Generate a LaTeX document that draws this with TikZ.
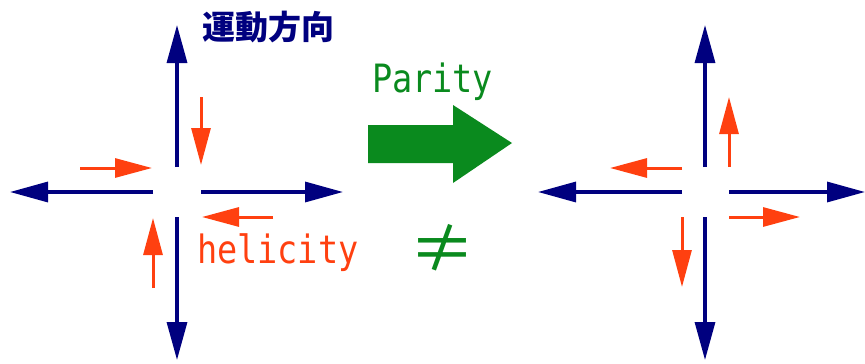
\documentclass[tikz,border=0pt]{standalone}
\usepackage{fontspec}
\newfontfamily\cjkfont{Noto Sans CJK JP}
\newfontfamily\labelfont[FakeStretch=0.86]{DejaVu Sans Mono}
\usetikzlibrary{arrows.meta}
\definecolor{navy}{HTML}{00007F}
\definecolor{spinred}{HTML}{FF4010}
\definecolor{paritygreen}{HTML}{0A8A1E}
\tikzset{
  motion/.style={draw=navy, line width=3.3pt, -{Triangle[length=38pt,width=20pt]}},
  spin/.style={draw=spinred, line width=3pt, -{Triangle[length=37pt,width=19pt]}},
  lbl/.style={inner sep=0pt, outer sep=0pt}
}
\begin{document}
\begin{tikzpicture}[x=1pt,y=-1pt]
\useasboundingbox (0,0) rectangle (865,364);

% ---- left cross: momentum directions ----
\coordinate (lU0) at (177,167); \coordinate (lU1) at (177,25);
\coordinate (lD0) at (177,217); \coordinate (lD1) at (177,360);
\coordinate (lL0) at (153,192); \coordinate (lL1) at (10,192);
\coordinate (lR0) at (201,192); \coordinate (lR1) at (343,192);
\draw[motion] (lU0) -- (lU1);
\draw[motion] (lD0) -- (lD1);
\draw[motion] (lL0) -- (lL1);
\draw[motion] (lR0) -- (lR1);

% ---- left cross: spins ----
\coordinate (ls1a) at (201,97);  \coordinate (ls1b) at (201,165);
\coordinate (ls2a) at (80,168);  \coordinate (ls2b) at (152,168);
\coordinate (ls3a) at (273,217); \coordinate (ls3b) at (202,217);
\coordinate (ls4a) at (153,288); \coordinate (ls4b) at (153,218);
\draw[spin] (ls1a) -- (ls1b);
\draw[spin] (ls2a) -- (ls2b);
\draw[spin] (ls3a) -- (ls3b);
\draw[spin] (ls4a) -- (ls4b);

% ---- right cross: momentum directions ----
\coordinate (rU0) at (705,167); \coordinate (rU1) at (705,25);
\coordinate (rD0) at (705,217); \coordinate (rD1) at (705,360);
\coordinate (rL0) at (682,192); \coordinate (rL1) at (538,192);
\coordinate (rR0) at (729,192); \coordinate (rR1) at (865,192);
\draw[motion] (rU0) -- (rU1);
\draw[motion] (rD0) -- (rD1);
\draw[motion] (rL0) -- (rL1);
\draw[motion] (rR0) -- (rR1);

% ---- right cross: spins ----
\coordinate (rs1a) at (729,167); \coordinate (rs1b) at (729,97);
\coordinate (rs2a) at (682,168); \coordinate (rs2b) at (610,168);
\coordinate (rs3a) at (729,217); \coordinate (rs3b) at (800,217);
\coordinate (rs4a) at (682,217); \coordinate (rs4b) at (682,287);
\draw[spin] (rs1a) -- (rs1b);
\draw[spin] (rs2a) -- (rs2b);
\draw[spin] (rs3a) -- (rs3b);
\draw[spin] (rs4a) -- (rs4b);

% ---- parity transformation arrow ----
\fill[paritygreen] (368,125) -- (453,125) -- (453,105) -- (512,143)
  -- (453,183) -- (453,163) -- (368,163) -- cycle;

% ---- labels ----
\node[lbl, anchor=west, text=navy] (motiontxt) at (202,27)
  {\cjkfont\bfseries\fontsize{33}{33}\selectfont 運動方向};
\node[lbl, anchor=base west, text=spinred] (helicitytxt) at (197,263)
  {\labelfont\fontsize{39}{39}\selectfont helicity};
\node[lbl, anchor=base west, text=paritygreen] (paritytxt) at (372,92)
  {\labelfont\fontsize{39}{39}\selectfont Parity};
\node[lbl, text=paritygreen] (neqtxt) at (442,248)
  {\cjkfont\fontsize{66}{66}\selectfont ≠};
\end{tikzpicture}
\end{document}
